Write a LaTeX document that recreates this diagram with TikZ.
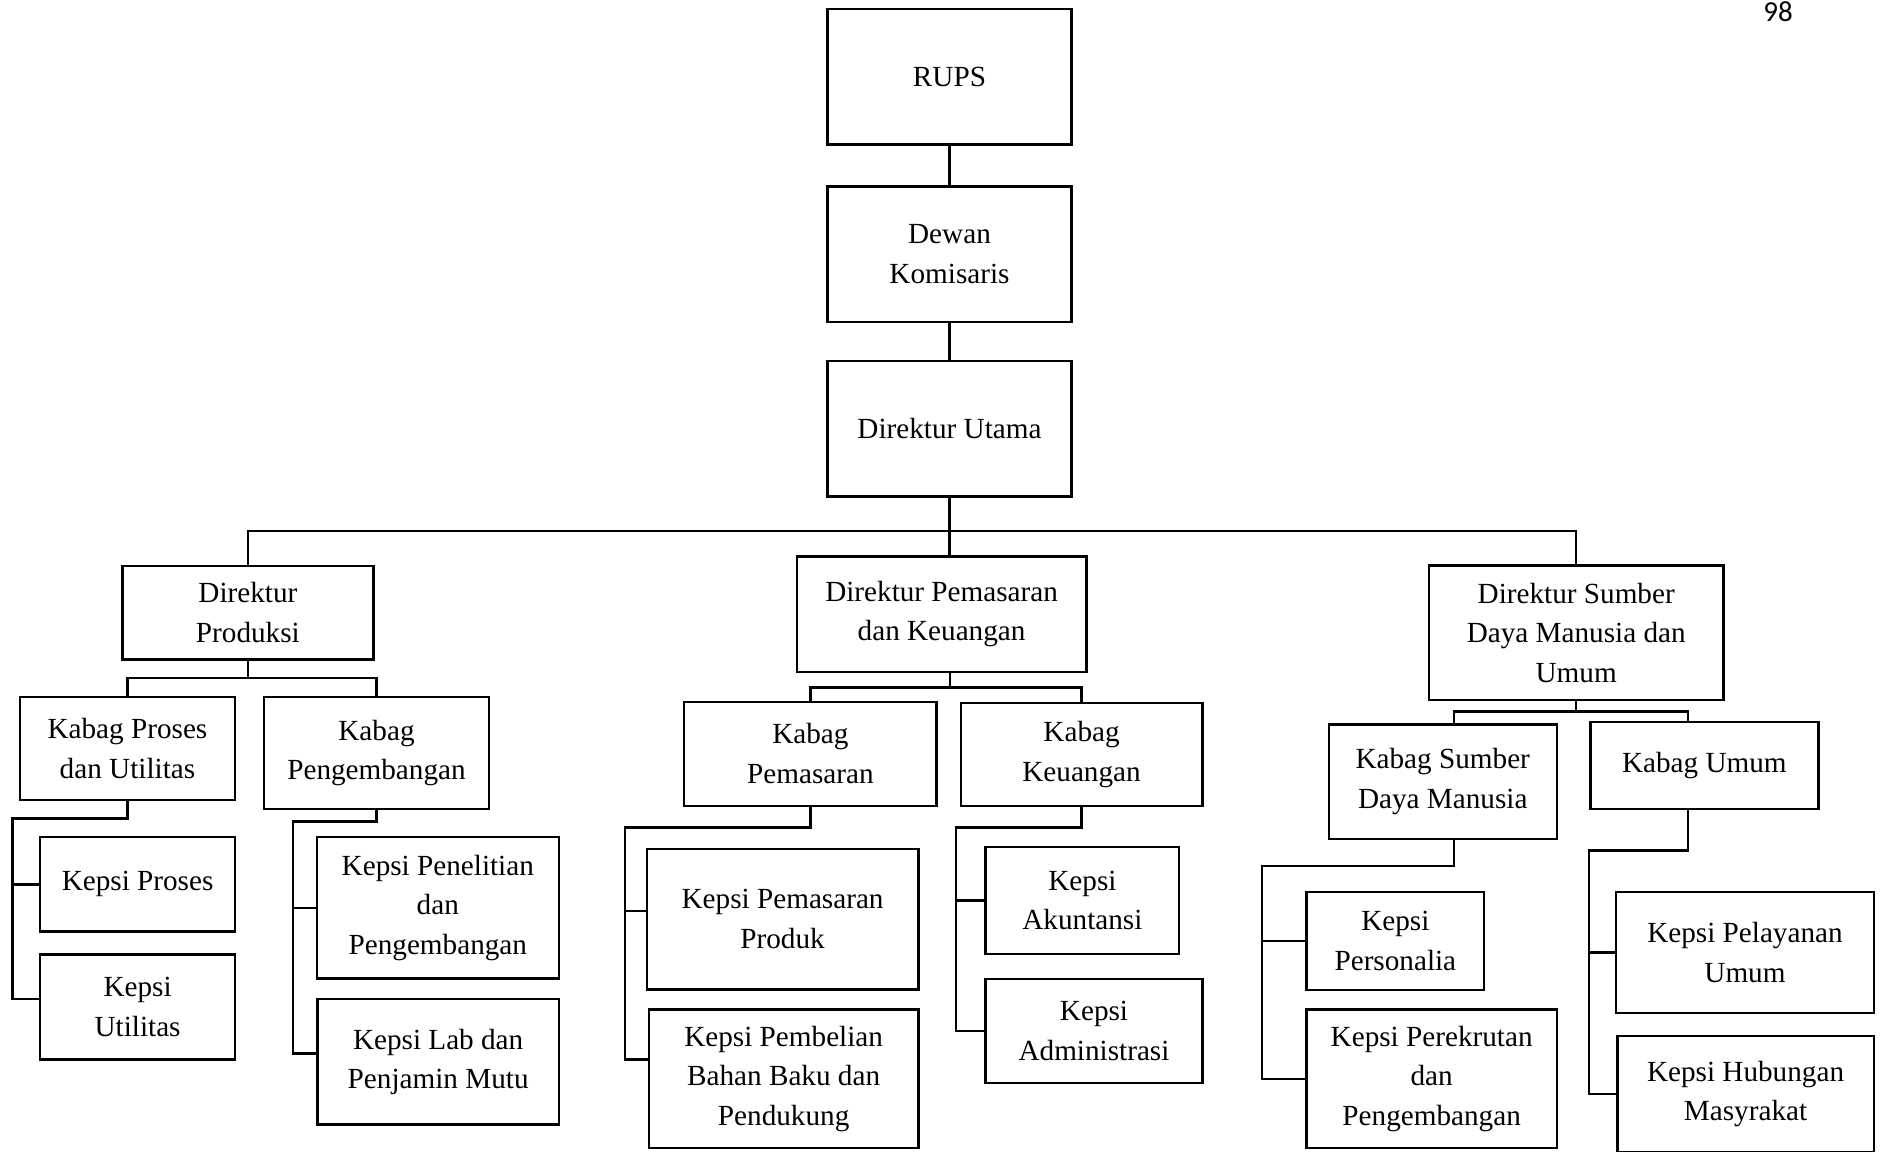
\documentclass[tikz,border=0pt]{standalone}
\usepackage{fontspec}
\setmainfont{Liberation Serif}
\newfontfamily\nomorfont{Carlito}
\usepackage{tikz}

\begin{document}
\begin{tikzpicture}[x=0.5pt, y=-0.5pt, line width=1.2pt,
        font=\fontsize{14.6}{19.8}\selectfont,
        kotak/.style={draw, align=center, inner sep=0pt}]
        \useasboundingbox (0,0) rectangle (1883,1151);

        % Pimpinan
        \node[kotak, minimum width=121.9pt, minimum height=67.85pt] (rups) at (949.5,76.75) {RUPS};
        \node[kotak, minimum width=121.9pt, minimum height=67.85pt] (dewan) at (949.5,254.25) {Dewan\\Komisaris};
        \node[kotak, minimum width=121.9pt, minimum height=67.85pt] (dirUtama) at (949.5,428.55) {Direktur Utama};

        % Direktur
        \node[kotak, minimum width=125.4pt, minimum height=46.65pt] (dirProd) at (247.9,612.65) {Direktur\\Produksi};
        \node[kotak, minimum width=144.7pt, minimum height=57.65pt] (dirPK) at (941.6,614.05) {Direktur Pemasaran\\dan Keuangan};
        \node[kotak, minimum width=147.4pt, minimum height=67.45pt] (dirSDM) at (1576.2,632.75) {Direktur Sumber\\Daya Manusia dan\\Umum};

        % Kabag
        \node[kotak, minimum width=107.55pt, minimum height=51.65pt] (kbProses) at (127.45,748.35) {Kabag Proses\\dan Utilitas};
        \node[kotak, minimum width=112.5pt, minimum height=56.15pt] (kbPeng) at (376.5,752.85) {Kabag\\Pengembangan};
        \node[kotak, minimum width=126.2pt, minimum height=52.05pt] (kbPemasaran) at (810.4,753.75) {Kabag\\Pemasaran};
        \node[kotak, minimum width=120.85pt, minimum height=51.45pt] (kbKeuangan) at (1081.55,754.35) {Kabag\\Keuangan};
        \node[kotak, minimum width=114.05pt, minimum height=57.3pt] (kbSDM) at (1442.75,781.6) {Kabag Sumber\\Daya Manusia};
        \node[kotak, minimum width=114.05pt, minimum height=43.45pt] (kbUmum) at (1704.35,765.45) {Kabag Umum};

        % Kepsi
        \node[kotak, minimum width=97.4pt, minimum height=47.3pt] (kpProses) at (137.6,884.3) {Kepsi Proses};
        \node[kotak, minimum width=97.4pt, minimum height=52.6pt] (kpUtilitas) at (137.6,1006.9) {Kepsi\\Utilitas};
        \node[kotak, minimum width=120.9pt, minimum height=70.7pt] (kpPenelitian) at (437.8,907.7) {Kepsi Penelitian\\dan\\Pengembangan};
        \node[kotak, minimum width=120.55pt, minimum height=62.8pt] (kpLab) at (438.15,1061.8) {Kepsi Lab dan\\Penjamin Mutu};
        \node[kotak, minimum width=135.8pt, minimum height=70.15pt] (kpPemasaran) at (782.6,919.15) {Kepsi Pemasaran\\Produk};
        \node[kotak, minimum width=134.75pt, minimum height=69.2pt] (kpPembelian) at (783.65,1078.8) {Kepsi Pembelian\\Bahan Baku dan\\Pendukung};
        \node[kotak, minimum width=96.8pt, minimum height=53.6pt] (kpAkuntansi) at (1082.4,900.3) {Kepsi\\Akuntansi};
        \node[kotak, minimum width=108.4pt, minimum height=51.85pt] (kpAdmin) at (1094,1031.05) {Kepsi\\Administrasi};
        \node[kotak, minimum width=88.85pt, minimum height=49.05pt] (kpPersonalia) at (1395.35,940.95) {Kepsi\\Personalia};
        \node[kotak, minimum width=125.15pt, minimum height=69.2pt] (kpPerekrutan) at (1431.65,1078.8) {Kepsi Perekrutan\\dan\\Pengembangan};
        \node[kotak, minimum width=128.75pt, minimum height=60.4pt] (kpPelayanan) at (1744.95,952.3) {Kepsi Pelayanan\\Umum};
        \node[kotak, minimum width=128.15pt, minimum height=58.15pt] (kpHubungan) at (1745.55,1093.85) {Kepsi Hubungan\\Masyrakat};

        % Nomor halaman
        \node[font=\nomorfont\fontsize{14.5}{16}\selectfont] (hal) at (1778,11.6) {98};

        % Titik belok
        \coordinate (bus) at (949.2,531);
        \coordinate (busP) at (247.9,678);
        \coordinate (busPK) at (950,687.3);
        \coordinate (busS) at (1576.2,711.5);
        \coordinate (eProses) at (12.6,818.3);
        \coordinate (ePeng) at (292.8,821.4);
        \coordinate (ePemasaran) at (624.9,827.6);
        \coordinate (eKeuangan) at (955.7,827.6);
        \coordinate (eSDM) at (1262.1,866.2);
        \coordinate (eUmum) at (1589,850.6);

        % Garis
        \draw (rups) -- (dewan);
        \draw (dewan) -- (dirUtama);
        \draw (dirUtama.south) -- (dirUtama.south |- dirPK.north);
        \draw (dirProd.north) |- (bus) -| (dirSDM.north);

        \draw (dirProd.south) -- (busP);
        \draw (kbProses.north) |- (busP) -| (kbPeng.north);
        \draw (dirPK.south -| busPK) -- (busPK);
        \draw (kbPemasaran.north) |- (busPK) -| (kbKeuangan.north);
        \draw (dirSDM.south) -- (busS);
        \draw ([xshift=5.6pt]kbSDM.north) |- (busS) -| ([xshift=-8.2pt]kbUmum.north);

        \draw (kbProses.south) |- (eProses) |- (kpProses.west);
        \draw (eProses) |- ([yshift=3.95pt]kpUtilitas.west);
        \draw (kbPeng.south) |- (ePeng) |- (kpPenelitian.west);
        \draw (ePeng) |- ([yshift=4.1pt]kpLab.west);
        \draw (kbPemasaran.south) |- (ePemasaran) |- ([yshift=4pt]kpPemasaran.west);
        \draw (ePemasaran) |- ([yshift=9.65pt]kpPembelian.west);
        \draw (kbKeuangan.south) |- (eKeuangan) |- (kpAkuntansi.west);
        \draw (eKeuangan) |- (kpAdmin.west);
        \draw ([xshift=5.6pt]kbSDM.south) |- (eSDM) |- (kpPersonalia.west);
        \draw (eSDM) |- (kpPerekrutan.west);
        \draw ([xshift=-8.2pt]kbUmum.south) |- (eUmum) |- (kpPelayanan.west);
        \draw (eUmum) |- (kpHubungan.west);
    \end{tikzpicture}
\end{document}
